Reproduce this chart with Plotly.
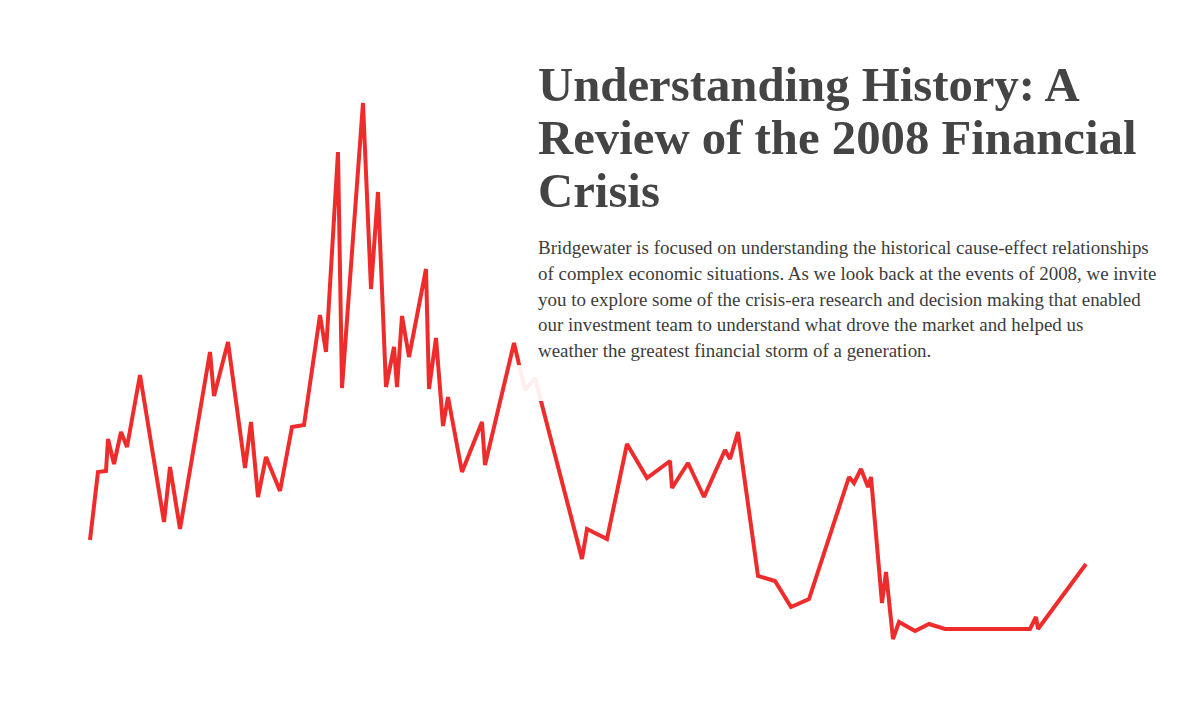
import plotly.graph_objects as go

# Time index (horizontal position units) and series level
t = [90, 98, 106, 108, 114, 121, 127, 140, 164, 170, 180, 210, 214, 228, 245, 251,
     258, 266, 280, 292, 304, 320, 326, 338, 342, 363, 371, 378, 386, 394, 397, 402,
     409, 426, 429, 436, 443, 448, 462, 482, 485, 514, 525, 535, 582, 587, 607, 627,
     647, 670, 672, 688, 704, 725, 730, 738, 758, 775, 791, 809, 849, 854, 861, 868,
     871, 882, 886, 893, 899, 915, 929, 945, 1030, 1036, 1038, 1086]
level = [161, 229, 230, 262, 237, 269, 254, 326, 179, 234, 172, 349, 305, 359, 233, 279,
         204, 244, 210, 274, 276, 386, 349, 549, 313, 598, 412, 509, 314, 354, 314, 385,
         344, 432, 312, 363, 275, 304, 229, 279, 236, 358, 311, 323, 142, 172, 162, 257,
         223, 240, 213, 238, 204, 251, 242, 269, 125, 120, 94, 102, 224, 218, 232, 214,
         224, 98, 129, 62, 79, 70, 77, 72, 72, 84, 72, 137]

title_lines = ["Understanding History: A", "Review of the 2008 Financial", "Crisis"]
body_lines = [
    "Bridgewater is focused on understanding the historical cause-effect relationships",
    "of complex economic situations. As we look back at the events of 2008, we invite",
    "you to explore some of the crisis-era research and decision making that enabled",
    "our investment team to understand what drove the market and helped us",
    "weather the greatest financial storm of a generation.",
]

W, H = 1196, 701
fig = go.Figure()
fig.add_trace(go.Scatter(x=t, y=level, mode="lines",
                         line=dict(color="#EE2C2C", width=4, shape="linear"),
                         hoverinfo="skip", showlegend=False))

# pale fade where the line passes the text panel
fig.add_shape(type="rect", xref="paper", yref="paper",
              x0=517 / W, x1=548 / W, y0=1 - 401 / H, y1=1 - 365 / H,
              fillcolor="rgba(255,255,255,0.92)", line=dict(width=0), layer="above")

TS, BS = 48.75, 18.95
title_base = [102, 155, 208]
for txt, b in zip(title_lines, title_base):
    fig.add_annotation(text="<b>" + txt + "</b>", xref="paper", yref="paper",
                       x=535.5 / W, y=1 - (b - 0.34 * TS) / H, xanchor="left", yanchor="middle",
                       showarrow=False, font=dict(family="Liberation Serif", size=TS, color="#444444"))

body_base = [254, 280, 305.5, 331, 357]
for txt, b in zip(body_lines, body_base):
    fig.add_annotation(text=txt, xref="paper", yref="paper",
                       x=535.5 / W, y=1 - (b - 0.34 * BS) / H, xanchor="left", yanchor="middle",
                       showarrow=False, font=dict(family="Liberation Serif", size=BS, color="#3c3c3c"))

fig.update_layout(width=W, height=H, autosize=False,
                  margin=dict(l=0, r=0, t=0, b=0, pad=0),
                  paper_bgcolor="white", plot_bgcolor="white",
                  xaxis=dict(range=[0, W], visible=False, fixedrange=True),
                  yaxis=dict(range=[0, H], visible=False, fixedrange=True))

fig.write_html("out.html", config={"displayModeBar": False})
